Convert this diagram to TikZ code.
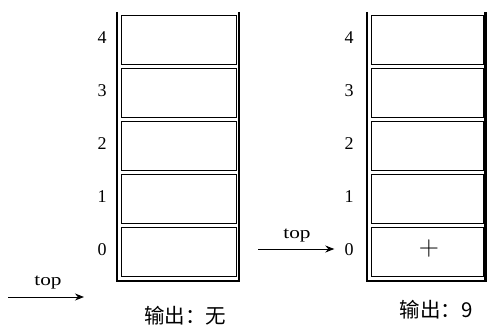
\documentclass[tikz,border=0pt]{standalone}
\usepackage{fontspec}
\newfontfamily\cjk{Noto Sans CJK SC}
\newfontfamily\tms{Liberation Serif}
\usetikzlibrary{arrows.meta}
\begin{document}
\begin{tikzpicture}[x=1pt,y=-1pt,
  cell/.style={draw,line width=1.1pt,minimum height=49pt,inner sep=0pt,anchor=north west},
  lcell/.style={cell,minimum width=115pt},
  rcell/.style={cell,minimum width=112pt},
  wall/.style={line width=2.6pt,line join=miter},
  idx/.style={inner sep=0pt,font=\tms\fontsize{18}{18}\selectfont},
  ptr/.style={-{Stealth[length=9pt,width=7pt]},line width=1pt},
  toplbl/.style={inner sep=0pt,font=\tms\fontsize{17}{17}\selectfont},
  outtxt/.style={inner sep=0pt,font=\cjk\fontsize{20.5}{21}\selectfont}]
\useasboundingbox (0,0) rectangle (487,326);
% left stack
\draw[wall] (117,12) -- (117,281) -- (239,281) -- (239,12);
\foreach \k in {0,...,4}{
  \node[lcell] (L\k) at (121,{227-53*\k}) {};
  \node[idx] (Li\k) at (102,{250-53*\k}) {\k};
}
% right stack
\draw[wall] (367,12) -- (367,281) -- (485.5,281) -- (485.5,12);
\foreach \k in {0,...,4}{
  \node[rcell] (R\k) at (371,{227-53*\k}) {};
  \node[idx] (Ri\k) at (349,{250-53*\k}) {\k};
}
\node[inner sep=0pt,font=\fontsize{28}{28}\selectfont] (plus) at (429,249) {+};
% pointers
\coordinate (ls) at (8,297);
\coordinate (le) at (84,297);
\draw[ptr] (ls) -- (le);
\node[toplbl] (ltop) at (48,283) {\scalebox{1.25}[1]{top}};
\coordinate (rs) at (258,249);
\draw[ptr,shorten >=10pt] (rs) -- (Ri0.west |- rs);
\node[toplbl] (rtop) at (297,236) {\scalebox{1.25}[1]{top}};
% outputs
\node[outtxt] (lout) at (185,316) {输出：无};
\node[outtxt] (rout) at (436,310) {输出：9};
\end{tikzpicture}
\end{document}
